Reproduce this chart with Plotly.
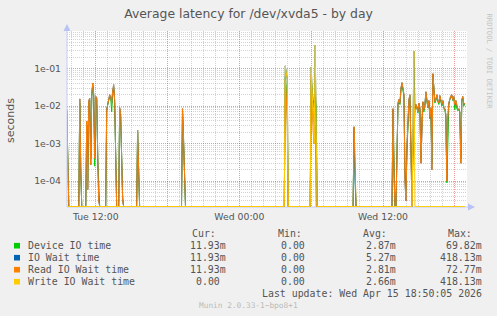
import plotly.graph_objects as go

# ---------------- data (5-minute averages, seconds) ----------------
times = (
    ["2026-04-14 " + t for t in [
        "09:35", "09:40", "09:45",
        "10:35", "10:40", "10:45", "10:50",
        "11:10", "11:15", "11:20", "11:25", "11:30", "11:35", "11:40", "11:45", "11:50", "11:55",
        "12:00", "12:05", "12:10", "12:15", "12:20",
        "12:50", "12:55", "13:00", "13:05", "13:10", "13:15", "13:20", "13:25", "13:30", "13:35", "13:40", "13:45",
        "13:55", "14:00", "14:05", "14:10", "14:15", "14:20",
        "15:25", "15:30", "15:35", "15:40",
        "19:10", "19:15", "19:20", "19:25", "19:30"]]
    + ["2026-04-15 " + t for t in [
        "03:45", "03:50", "03:55", "04:00", "04:05",
        "05:55", "06:00", "06:05", "06:10", "06:15", "06:20", "06:25", "06:30",
        "09:30", "09:35", "09:40", "09:45",
        "12:45", "12:50", "12:55", "13:00", "13:05", "13:10", "13:15", "13:20", "13:25", "13:30",
        "13:35", "13:40", "13:45", "13:50", "13:55", "14:00", "14:05", "14:10", "14:15", "14:20",
        "14:25", "14:30", "14:35", "14:40", "14:45", "14:50", "14:55", "15:00", "15:05", "15:10",
        "15:15", "15:20", "15:25", "15:30", "15:35", "15:40", "15:45", "15:50", "15:55", "16:00",
        "16:05", "16:10", "16:15", "16:20", "16:25", "16:30", "16:35", "16:40", "16:45", "16:50",
        "16:55", "17:00", "17:05", "17:10", "17:15", "17:20", "17:25", "17:30", "17:35", "17:40",
        "17:45", "17:50", "17:55", "18:00", "18:05", "18:10", "18:15", "18:20", "18:25", "18:30",
        "18:35", "18:40", "18:45", "18:50"]]
)

device = [
    0.007, 0.0003, 0,
    0, 0.012, 0.0002, 0,
    0, 0.003, 0.0001, 0.012, 0.014, 0.0004, 0.018, 0.035, 0.015, 0.00025,
    0.016, 0.015, 0.0004, 0.00005, 0,
    0, 0.007, 0.011, 0.015, 0.018, 0.017, 0.007, 0.022, 0.032, 0.012, 0.0002, 0,
    0, 0.008, 0.005, 0.0003, 0.00004, 0,
    0, 0.002, 0.0002, 0,
    0, 0.0075, 0.0012, 0.00008, 0,
    0, 0.06, 0.03, 0.006, 0,
    0, 0.05, 0.02, 0.015, 0.01, 0.02, 0.01, 0,
    0, 0.0025, 0.00015, 0,
    0, 0.008, 0.0003, 0, 0, 0.0003, 0.011, 0.013, 0.011, 0.028,
    0.036, 0.026, 0.018, 0.0002, 0.00006, 0.0006, 0.005, 0.013, 0.018, 0.0012,
    0.00005, 0.0004, 0.004, 0.008, 0.01, 0.009, 0.0065, 0.011, 0.008, 0.0004,
    0.005, 0.012, 0.007, 0.01, 0.021, 0.011, 0.009, 0.013, 0.0045, 0.008,
    0.0003, 0.0698, 0.018, 0.012, 0.014, 0.018, 0.013, 0.011, 0.017, 0.014,
    0.01, 0.013, 0.0085, 0.008, 0.005, 0.00009, 0.004, 0.011, 0.015, 0.017,
    0.018, 0.014, 0.016, 0.008, 0.013, 0.0085, 0.0075, 0.008, 0.0068, 0.0004,
    0.014, 0.016, 0.01, 0.01193,
]

iowait = [
    0.008, 0.0001, 0,
    0, 0.0155, 0.0002, 0,
    0, 0.004, 0.00006, 0.014, 0.016, 0.00027, 0.02, 0.041, 0.02, 0.0004,
    0.018, 0.017, 0.0005, 0.00003, 0,
    0, 0.008, 0.012, 0.016, 0.02, 0.018, 0.012, 0.025, 0.037, 0.014, 0.0001, 0,
    0, 0.009, 0.006, 0.0002, 0.00003, 0,
    0, 0.0023, 0.0001, 0,
    0, 0.0085, 0.0015, 0.00005, 0,
    0, 0.118, 0.08, 0.05, 0,
    0, 0.11, 0.02, 0.004, 0.001, 0.41813, 0.0005, 0,
    0, 0.0028, 0.0001, 0,
    0, 0.0085, 0.0002, 0, 0, 0.0005, 0.012, 0.015, 0.012, 0.03,
    0.042, 0.03, 0.02, 0.0001, 0.00003, 0.0008, 0.006, 0.015, 0.02, 0.0015,
    0, 0.002, 0.29, 0.009, 0.011, 0.009, 0.007, 0.012, 0.009, 0.0003,
    0.006, 0.013, 0.008, 0.011, 0.024, 0.012, 0.009, 0.014, 0.005, 0.009,
    0.0002, 0.0728, 0.02, 0.013, 0.015, 0.02, 0.014, 0.012, 0.019, 0.015,
    0.011, 0.014, 0.009, 0.0085, 0.006, 0.0001, 0.0048, 0.012, 0.016, 0.019,
    0.02, 0.015, 0.018, 0.011, 0.014, 0.009, 0.008, 0.0085, 0.007, 0.0003,
    0.015, 0.018, 0.011, 0.01193,
]

read = [
    0.008, 0.0001, 0,
    0, 0.0155, 0.0002, 0,
    0, 0.004, 0.00006, 0.014, 0.016, 0.00027, 0.02, 0.041, 0.02, 0.0004,
    0.018, 0.017, 0.0005, 0.00003, 0,
    0, 0.008, 0.012, 0.016, 0.02, 0.018, 0.012, 0.025, 0.037, 0.014, 0.0001, 0,
    0, 0.009, 0.006, 0.0002, 0.00003, 0,
    0, 0.0023, 0.0001, 0,
    0, 0.0085, 0.0015, 0.00005, 0,
    0, 0.05, 0.02, 0.003, 0,
    0, 0.07, 0.01, 0.002, 0.001, 0.003, 0, 0,
    0, 0.0028, 0.0001, 0,
    0, 0.0085, 0.0002, 0, 0, 0.0005, 0.012, 0.015, 0.012, 0.03,
    0.042, 0.03, 0.02, 0.0001, 0.00003, 0.0008, 0.006, 0.015, 0.02, 0.0015,
    0, 0.0005, 0.005, 0.009, 0.011, 0.009, 0.007, 0.012, 0.009, 0.0003,
    0.006, 0.013, 0.008, 0.011, 0.024, 0.012, 0.009, 0.014, 0.005, 0.009,
    0.0002, 0.0728, 0.02, 0.013, 0.015, 0.02, 0.014, 0.012, 0.019, 0.015,
    0.011, 0.014, 0.009, 0.0085, 0.006, 0.0001, 0.0048, 0.012, 0.016, 0.019,
    0.02, 0.015, 0.018, 0.011, 0.014, 0.009, 0.008, 0.0085, 0.007, 0.0003,
    0.015, 0.018, 0.011, 0.01193,
]

write = [
    0, 0, 0,
    0, 0, 0, 0,
    0, 0, 0, 0, 0, 0, 0, 0, 0, 0,
    0, 0, 0, 0, 0,
    0, 0, 0, 0, 0, 0, 0, 0, 0, 0, 0, 0,
    0, 0, 0, 0, 0, 0,
    0, 0, 0, 0,
    0, 0, 0, 0, 0,
    0, 0.118, 0.08, 0.05, 0,
    0, 0.11, 0.02, 0.004, 0.001, 0.41813, 0.0005, 0,
    0, 0, 0, 0,
    0, 0, 0, 0, 0, 0, 0, 0, 0, 0,
    0, 0, 0, 0, 0, 0, 0, 0, 0, 0,
    0, 0.002, 0.29, 0, 0, 0, 0, 0, 0, 0,
    0, 0, 0, 0, 0, 0, 0, 0, 0, 0,
    0, 0, 0, 0, 0, 0, 0, 0, 0, 0,
    0, 0, 0, 0, 0, 0, 0, 0, 0, 0,
    0, 0, 0, 0, 0, 0, 0, 0, 0, 0,
    0, 0, 0, 0,
]

series_names = ["Device IO time", "IO Wait time", "Read IO Wait time", "Write IO Wait time"]
series_colors = ["#00CC00", "#0066B3", "#FF8000", "#FFCC00"]
cur_vals = ["11.93m", "11.93m", "11.93m", "0.00"]
min_vals = ["0.00", "0.00", "0.00", "0.00"]
avg_vals = ["2.87m", "5.27m", "2.81m", "2.66m"]
max_vals = ["69.82m", "418.13m", "72.77m", "418.13m"]

y_tick_vals = [1e-4, 1e-3, 1e-2, 1e-1]
y_tick_text = ["1e-04", "1e-03", "1e-02", "1e-01"]
x_tick_vals = ["2026-04-14 12:00", "2026-04-14 18:00", "2026-04-15 00:00",
               "2026-04-15 06:00", "2026-04-15 12:00", "2026-04-15 18:00"]
x_tick_text = ["Tue 12:00", "", "Wed 00:00", "", "Wed 12:00", ""]

# ---------------- geometry ----------------
W, H = 497, 316
ML, MR, MT, MB = 67, 30, 31, 109
PW, PH = W - ML - MR, H - MT - MB
YLOG_MIN, YLOG_MAX = -4.69, 0.0
FLOOR = 10 ** (YLOG_MIN + 0.012)


def px(x):
    return (x - ML) / PW


def py(y):
    return (H - MB - y) / PH


TXT = "#555555"
MONO = "DejaVu Sans Mono"
SANS = "DejaVu Sans"
MAJOR_GRID = "rgba(225,70,70,0.55)"
MINOR_GRID = "rgba(140,140,140,0.38)"

fig = go.Figure()
for name, vals, col in zip(series_names, [device, iowait, read, write], series_colors):
    fig.add_trace(go.Scatter(
        x=times, y=[v if v > 0 else FLOOR for v in vals],
        mode="lines", line=dict(color=col, width=1),
        name=name, showlegend=False, hoverinfo="skip"))

minor_y = [m * 10 ** e for e in range(-5, 1) for m in range(2, 10)]
minor_x = [f"2026-04-{d} {h:02d}:00" for d in (14, 15) for h in range(24) if h % 6 != 0]

fig.update_layout(
    width=W, height=H, autosize=False,
    margin=dict(l=ML, r=MR, t=MT, b=MB, pad=0),
    paper_bgcolor="#f0f0f0", plot_bgcolor="#ffffff",
    showlegend=False,
    title=dict(text="Average latency for /dev/xvda5 - by day",
               x=0.5, xref="container", xanchor="center",
               y=1 - 14 / H, yref="container", yanchor="middle",
               font=dict(family=SANS, size=12.4, color=TXT)),
    xaxis=dict(
        type="date",
        range=["2026-04-14 09:36", "2026-04-15 19:01"],
        tickmode="array", tickvals=x_tick_vals, ticktext=x_tick_text,
        showgrid=True, gridcolor=MAJOR_GRID, gridwidth=1, griddash="1px,1px",
        ticks="", showline=False, zeroline=False,
        tickfont=dict(family=SANS, size=9.3, color=TXT),
        ticklabelstandoff=3,
        minor=dict(tickmode="array", tickvals=minor_x,
                   showgrid=True, gridcolor=MINOR_GRID, gridwidth=1,
                   griddash="1px,1px", ticks=""),
        fixedrange=True,
    ),
    yaxis=dict(
        type="log",
        range=[YLOG_MIN, YLOG_MAX],
        tickmode="array", tickvals=y_tick_vals, ticktext=y_tick_text,
        showgrid=True, gridcolor=MAJOR_GRID, gridwidth=1, griddash="1px,1px",
        ticks="", showline=False, zeroline=False,
        tickfont=dict(family=SANS, size=9.3, color=TXT),
        ticklabelstandoff=5,
        minor=dict(tickmode="array", tickvals=minor_y,
                   showgrid=True, gridcolor=MINOR_GRID, gridwidth=1,
                   griddash="1px,1px", ticks=""),
        fixedrange=True,
    ),
)

shapes = []
AX = "#c4ccf6"
# axis lines
shapes.append(dict(type="line", xref="paper", yref="paper", x0=px(67), x1=px(67), y0=py(207), y1=py(28),
                   line=dict(color=AX, width=1), layer="above"))
shapes.append(dict(type="line", xref="paper", yref="paper", x0=px(67), x1=px(470), y0=py(207), y1=py(207),
                   line=dict(color=AX, width=1), layer="below"))
# arrows
shapes.append(dict(type="path", xref="paper", yref="paper",
                   path=f"M {px(67)},{py(24)} L {px(63.5)},{py(31)} L {px(70.5)},{py(31)} Z",
                   fillcolor="#b8c2f4", line=dict(width=0), layer="above"))
shapes.append(dict(type="path", xref="paper", yref="paper",
                   path=f"M {px(475)},{py(207)} L {px(468)},{py(203.5)} L {px(468)},{py(210.5)} Z",
                   fillcolor="#b8c2f4", line=dict(width=0), layer="above"))

ann = []
# vertical axis label
ann.append(dict(text="seconds", xref="paper", yref="paper", x=px(11), y=py(120),
                xanchor="center", yanchor="middle", textangle=-90, showarrow=False,
                font=dict(family=SANS, size=11, color=TXT)))
# watermark on right
ann.append(dict(text="RRDTOOL / TOBI OETIKER", xref="paper", yref="paper", x=px(488.5), y=py(61),
                xanchor="center", yanchor="middle", textangle=90, showarrow=False,
                font=dict(family=MONO, size=7.2, color="#c4c4c4")))

# legend table
row_y = [245.7, 257.7, 269.7, 281.7]
hdr_y = 233.3
for label, xl in zip(["Cur:", "Min:", "Avg:", "Max:"], [190.7, 276.7, 361.7, 446.7]):
    ann.append(dict(text=label, xref="paper", yref="paper", x=px(xl - 1), y=py(hdr_y),
                    xanchor="left", yanchor="middle", showarrow=False,
                    font=dict(family=MONO, size=9.9, color=TXT)))

col_right = [227, 312, 397.3, 483.3]
for i, (name, col) in enumerate(zip(series_names, series_colors)):
    yc = row_y[i]
    shapes.append(dict(type="rect", xref="paper", yref="paper",
                       x0=px(14), x1=px(20), y0=py(yc + 2.8), y1=py(yc - 2.8),
                       fillcolor=col, line=dict(width=0)))
    ann.append(dict(text=name, xref="paper", yref="paper", x=px(26), y=py(yc),
                    xanchor="left", yanchor="middle", showarrow=False,
                    font=dict(family=MONO, size=9.9, color=TXT)))
    for vals, xr in zip([cur_vals, min_vals, avg_vals, max_vals], col_right):
        v = vals[i]
        if not v.endswith("m"):
            v = v + "\u00a0"
        ann.append(dict(text=v, xref="paper", yref="paper", x=px(xr + 1), y=py(yc),
                        xanchor="right", yanchor="middle", showarrow=False,
                        font=dict(family=MONO, size=9.9, color=TXT)))

ann.append(dict(text="Last update: Wed Apr 15 18:50:05 2026", xref="paper", yref="paper",
                x=px(484.3), y=py(293.7), xanchor="right", yanchor="middle", showarrow=False,
                font=dict(family=MONO, size=9.9, color=TXT)))
ann.append(dict(text="Munin 2.0.33-1~bpo8+1", xref="paper", yref="paper",
                x=px(248.3), y=py(305.7), xanchor="center", yanchor="middle", showarrow=False,
                font=dict(family=MONO, size=7.8, color="#bbbbbb")))

fig.update_layout(shapes=shapes, annotations=ann)

fig.write_html("out.html", config={"displayModeBar": False, "staticPlot": True})
